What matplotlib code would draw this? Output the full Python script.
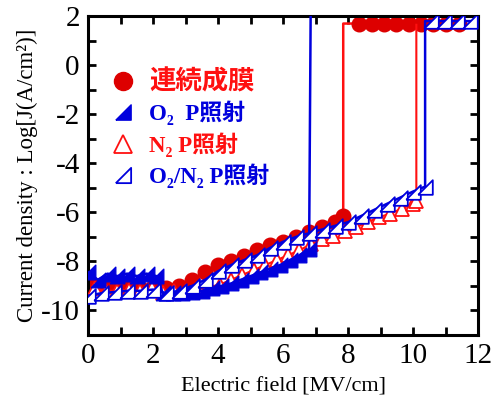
import numpy as np
import matplotlib
matplotlib.use("Agg")
import matplotlib.pyplot as plt
from matplotlib.lines import Line2D

plt.rcParams['font.family'] = ['Liberation Serif', 'Noto Sans CJK JP', 'DejaVu Sans']
plt.rcParams['axes.unicode_minus'] = False

# 連続成膜 (red circles)
cont_x = [0.0, 0.4, 0.8, 1.2, 1.6, 2.0, 2.4, 2.8, 3.2, 3.6, 4.0, 4.4, 4.8, 5.2, 5.6,
          6.0, 6.4, 6.8, 7.2, 7.6, 7.85, 7.85,
          8.35, 8.73, 9.1, 9.48, 9.86, 10.24, 10.62, 11.0, 11.4]
cont_y = [-8.8, -8.95, -9.0, -9.05, -9.1, -9.05, -9.1, -9.0, -8.75, -8.45, -8.15, -8.0, -7.8, -7.55, -7.35,
          -7.2, -7.0, -6.8, -6.6, -6.4, -6.15, 1.7,
          1.7, 1.7, 1.7, 1.7, 1.7, 1.7, 1.7, 1.7, 1.7]

# O2 P照射 (filled blue triangles)
o2_x = [0.0, 0.3, 0.6, 0.9, 1.2, 1.5, 1.8, 2.1,
        2.3, 2.6, 2.9, 3.2, 3.5, 3.8, 4.1, 4.4, 4.7, 5.0, 5.3, 5.6, 5.9, 6.2, 6.5, 6.8, 6.85]
o2_y = [-8.45, -8.75, -8.5, -8.6, -8.5, -8.6, -8.5, -8.6,
        -9.3, -9.3, -9.3, -9.25, -9.2, -9.1, -9.0, -8.9, -8.75, -8.6, -8.45, -8.3, -8.15, -7.95, -7.75, -7.5, 2.6]

# N2 P照射 (open red triangles)
n2_x = [0.2, 0.55, 0.9, 1.25, 1.6, 1.95, 2.3, 2.65, 3.0, 3.35, 3.7, 4.05, 4.4, 4.75, 5.1,
        5.45, 5.8, 6.15, 6.5, 6.85, 7.2, 7.55, 7.9, 8.25, 8.6, 8.95, 9.3, 9.65, 10.0, 10.1, 10.1]
n2_y = [-9.1, -9.2, -9.2, -9.15, -9.2, -9.1, -9.3, -9.2, -9.2, -9.15, -9.05, -8.95, -8.75, -8.55, -8.35,
        -8.15, -7.95, -7.75, -7.55, -7.3, -7.1, -6.95, -6.75, -6.6, -6.4, -6.2, -6.05, -5.85, -5.65, -5.55, 1.65]

# O2/N2 P照射 (open blue triangles)
on_x = [0.0, 0.4, 0.8, 1.2, 1.6, 2.0, 2.4, 2.8, 3.2, 3.6, 4.0, 4.4, 4.8, 5.2, 5.6, 6.0,
        6.4, 6.8, 7.2, 7.6, 8.0, 8.4, 8.8, 9.2, 9.6, 10.0, 10.37, 10.37,
        10.55, 10.95, 11.35, 11.75]
on_y = [-9.4, -9.3, -9.25, -9.2, -9.2, -9.15, -9.3, -9.2, -9.0, -8.75, -8.4, -8.15, -7.95, -7.75, -7.45, -7.2,
        -7.0, -6.85, -6.7, -6.55, -6.4, -6.15, -5.9, -5.65, -5.4, -5.15, -4.95, 1.8,
        1.8, 1.8, 1.8, 1.8]

RED = '#ff1010'
DRED = '#dd0000'
BLUE = '#0000dd'

# right triangle, right angle at bottom right
rtri = [(-1, -1), (1, -1), (1, 1), (-1, -1)]

fig = plt.figure(figsize=(4.98, 4.05), dpi=100)
ax = fig.add_axes([0.177, 0.173, 0.783, 0.787])

ax.plot(cont_x, cont_y, color=RED, lw=1.8, marker='o', ms=10.5, mfc=DRED, mec=DRED,
        markevery=[i for i in range(len(cont_x)) if i != 21], zorder=2)
ax.plot(n2_x, n2_y, color=RED, lw=1.5, marker='^', ms=10, mfc='white', mec=RED, mew=1.3,
        markevery=list(range(len(n2_x) - 1)), zorder=3)
ax.plot(o2_x, o2_y, color=BLUE, lw=1.8, marker=rtri, ms=10.5, mfc=BLUE, mec=BLUE,
        markevery=list(range(len(o2_x) - 1)), zorder=4)
ax.plot(on_x, on_y, color=BLUE, lw=1.8, marker=rtri, ms=10.5, mfc='white', mec=BLUE, mew=1.3,
        markevery=[i for i in range(len(on_x)) if i != 27], zorder=5)

ax.set_xlim(0, 12)
ax.set_ylim(-11, 2)
ax.set_xticks(np.arange(0, 13, 2))
ax.set_xticks(np.arange(0, 13, 1), minor=True)
ax.set_yticks(np.arange(-10, 3, 2))
ax.set_yticks(np.arange(-11, 3, 1), minor=True)
ax.tick_params(which='both', direction='in', top=True, right=True, width=2, length=6,
               labelsize=21, pad=6)
for s in ax.spines.values():
    s.set_linewidth(2.2)

ax.set_xlabel('Electric field [MV/cm]', fontsize=16, labelpad=6)
ax.set_ylabel('Current density : Log[J(A/cm²)]', fontsize=16.5, labelpad=2)

handles = [
    Line2D([], [], ls='none', marker='o', ms=13, mfc=DRED, mec=DRED),
    Line2D([], [], ls='none', marker=rtri, ms=11, mfc=BLUE, mec=BLUE),
    Line2D([], [], ls='none', marker='^', ms=13, mfc='white', mec=RED, mew=1.3),
    Line2D([], [], ls='none', marker=rtri, ms=11, mfc='white', mec=BLUE, mew=1.3),
]
labels = ['連続成膜', 'O₂  P照射', 'N₂ P照射', 'O₂/N₂ P照射']
leg = ax.legend(handles, labels, loc='upper left', bbox_to_anchor=(0.0, 0.9),
                frameon=False, handlelength=1.2, handletextpad=0.55, labelspacing=0.3,
                prop={'size': 16.5, 'weight': 'bold'})
cols = [RED, BLUE, RED, BLUE]
for t, c in zip(leg.get_texts(), cols):
    t.set_color(c)
leg.get_texts()[0].set_fontsize(19)

fig.savefig('out.png', dpi=100)
